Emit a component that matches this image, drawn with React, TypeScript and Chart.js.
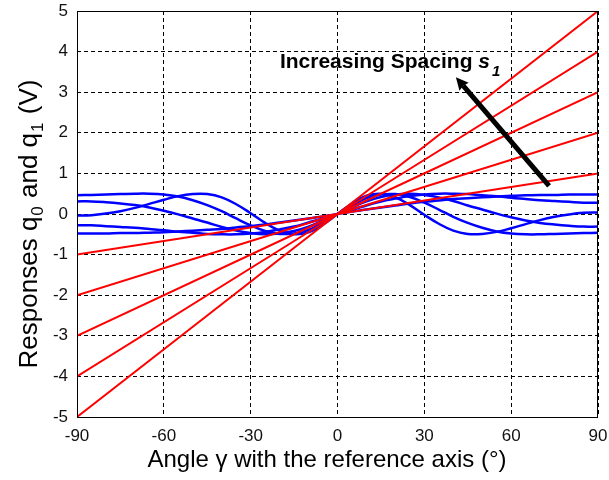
import React, { useEffect, useRef } from "react";
import { Chart, registerables } from "chart.js";

Chart.register(...registerables);

// ---- data ----
const angles = [
  -90, -85, -80, -75, -70, -65, -60, -55, -50, -45, -40, -35, -30, -25, -20, -15, -10, -5,
  0, 5, 10, 15, 20, 25, 30, 35, 40, 45, 50, 55, 60, 65, 70, 75, 80, 85, 90,
];

const blueQ0s1 = [
  -0.48, -0.48, -0.48, -0.47, -0.47, -0.46, -0.45, -0.43, -0.41, -0.39, -0.37, -0.33, -0.3, -0.26, -0.21, -0.16, -0.11, -0.06,
  0, 0.06, 0.11, 0.16, 0.21, 0.26, 0.3, 0.33, 0.37, 0.39, 0.41, 0.43, 0.45, 0.46, 0.47, 0.47, 0.48, 0.48, 0.48,
];
const blueQ0s2 = [
  -0.28, -0.28, -0.3, -0.32, -0.34, -0.37, -0.4, -0.44, -0.46, -0.49, -0.5, -0.5, -0.48, -0.44, -0.38, -0.31, -0.21, -0.11,
  0, 0.11, 0.21, 0.31, 0.38, 0.44, 0.48, 0.5, 0.5, 0.49, 0.46, 0.44, 0.4, 0.37, 0.34, 0.32, 0.3, 0.28, 0.28,
];
const blueQ0s3 = [
  0.31, 0.31, 0.29, 0.26, 0.22, 0.16, 0.08, -0.01, -0.11, -0.21, -0.32, -0.41, -0.47, -0.5, -0.48, -0.42, -0.31, -0.16,
  0, 0.16, 0.31, 0.42, 0.48, 0.5, 0.47, 0.41, 0.32, 0.21, 0.11, 0.01, -0.08, -0.16, -0.22, -0.26, -0.29, -0.31, -0.31,
];
const blueQ0s4 = [
  0.46, 0.47, 0.48, 0.49, 0.5, 0.5, 0.48, 0.43, 0.34, 0.22, 0.07, -0.11, -0.28, -0.42, -0.49, -0.48, -0.39, -0.21,
  0, 0.21, 0.39, 0.48, 0.49, 0.42, 0.28, 0.11, -0.07, -0.22, -0.34, -0.43, -0.48, -0.5, -0.5, -0.49, -0.48, -0.47, -0.46,
];
const blueQ0s5 = [
  -0.04, -0.03, 0.01, 0.07, 0.15, 0.25, 0.35, 0.44, 0.49, 0.49, 0.41, 0.24, 0.02, -0.22, -0.41, -0.5, -0.45, -0.26,
  0, 0.26, 0.45, 0.5, 0.41, 0.22, -0.02, -0.24, -0.41, -0.49, -0.49, -0.44, -0.35, -0.25, -0.15, -0.07, -0.01, 0.03, 0.04,
];

const redAngles = [-90, 0, 90];
const redQ1s1 = [-1, 0, 1];
const redQ1s2 = [-2, 0, 2];
const redQ1s3 = [-3, 0, 3];
const redQ1s4 = [-4, 0, 4];
const redQ1s5 = [-5, 0, 5];

const xTickValues = [-90, -60, -30, 0, 30, 60, 90];
const yTickValues = [-5, -4, -3, -2, -1, 0, 1, 2, 3, 4, 5];

const xTitle = "Angle \u03b3 with the reference axis (\u00b0)";
const yTitleParts = [
  { t: "Responses q", sub: false },
  { t: "0", sub: true },
  { t: " and q", sub: false },
  { t: "1", sub: true },
  { t: " (V)", sub: false },
];
const noteText = "Increasing Spacing ";
const noteSymbol = "s";
const noteSub = "1";
const noteAt = { x: -19.9, y: 3.6 };
const arrowTail = { x: 73.1, y: 0.69 };
const arrowHead = { x: 40.9, y: 3.37 };

const FONT = "'Liberation Sans', Arial, Helvetica, sans-serif";

const toPts = (xs: number[], ys: number[]) => xs.map((x, i) => ({ x, y: ys[i] }));

const decorPlugin = {
  id: "decor",
  afterDraw(chart: any) {
    const { ctx, chartArea: a, scales } = chart;
    const sx = scales.x;
    const sy = scales.y;
    ctx.save();
    // frame
    ctx.strokeStyle = "#000";
    ctx.lineWidth = 1;
    ctx.setLineDash([]);
    ctx.strokeRect(a.left + 0.5, a.top + 0.5, a.right - a.left - 1, a.bottom - a.top);

    // x title
    ctx.fillStyle = "#000";
    ctx.font = `24px ${FONT}`;
    ctx.textAlign = "center";
    ctx.textBaseline = "alphabetic";
    ctx.fillText(xTitle, 327, 467);

    // y title with subscripts
    const mainFont = `26px ${FONT}`;
    const subFont = `17px ${FONT}`;
    let total = 0;
    const widths = yTitleParts.map((p) => {
      ctx.font = p.sub ? subFont : mainFont;
      const w = ctx.measureText(p.t).width + (p.sub ? 2 : 0);
      total += w;
      return w;
    });
    ctx.translate(37, 224);
    ctx.rotate(-Math.PI / 2);
    ctx.textAlign = "left";
    let cx = -total / 2;
    yTitleParts.forEach((p, i) => {
      ctx.font = p.sub ? subFont : mainFont;
      ctx.fillText(p.t, cx + (p.sub ? 1 : 0), p.sub ? 6 : 0);
      cx += widths[i];
    });
    ctx.setTransform(1, 0, 0, 1, 0, 0);

    // annotation text
    const tx = sx.getPixelForValue(noteAt.x);
    const ty = sy.getPixelForValue(noteAt.y);
    ctx.textAlign = "left";
    ctx.font = `bold 21px ${FONT}`;
    ctx.fillText(noteText, tx, ty);
    let w = ctx.measureText(noteText).width;
    ctx.font = `italic bold 21px ${FONT}`;
    ctx.fillText(noteSymbol, tx + w, ty);
    w += ctx.measureText(noteSymbol).width;
    ctx.font = `italic bold 15px ${FONT}`;
    ctx.fillText(noteSub, tx + w + 2, ty + 8);

    // arrow
    const x1 = sx.getPixelForValue(arrowTail.x);
    const y1 = sy.getPixelForValue(arrowTail.y);
    const x2 = sx.getPixelForValue(arrowHead.x);
    const y2 = sy.getPixelForValue(arrowHead.y);
    const ang = Math.atan2(y2 - y1, x2 - x1);
    const headLen = 14;
    const bx = x2 - headLen * 0.8 * Math.cos(ang);
    const by = y2 - headLen * 0.8 * Math.sin(ang);
    ctx.strokeStyle = "#000";
    ctx.lineWidth = 5;
    ctx.lineCap = "butt";
    ctx.beginPath();
    ctx.moveTo(x1, y1);
    ctx.lineTo(bx, by);
    ctx.stroke();
    ctx.fillStyle = "#000";
    ctx.beginPath();
    ctx.moveTo(x2, y2);
    ctx.lineTo(x2 - headLen * Math.cos(ang - 0.45), y2 - headLen * Math.sin(ang - 0.45));
    ctx.lineTo(bx, by);
    ctx.lineTo(x2 - headLen * Math.cos(ang + 0.45), y2 - headLen * Math.sin(ang + 0.45));
    ctx.closePath();
    ctx.fill();
    ctx.restore();
  },
};

export default function App() {
  const ref = useRef<HTMLCanvasElement | null>(null);
  useEffect(() => {
    if (!ref.current) return;
    const red = (data: number[]) => ({
      data: toPts(redAngles, data),
      borderColor: "#ff0000",
      borderWidth: 2,
      pointRadius: 0,
      tension: 0,
      fill: false,
    });
    const blue = (data: number[]) => ({
      data: toPts(angles, data),
      borderColor: "#0000ff",
      borderWidth: 2.5,
      pointRadius: 0,
      tension: 0.4,
      fill: false,
    });
    const chart = new Chart(ref.current, {
      type: "line",
      data: {
        datasets: [
          red(redQ1s1),
          red(redQ1s2),
          red(redQ1s3),
          red(redQ1s4),
          red(redQ1s5),
          blue(blueQ0s1),
          blue(blueQ0s2),
          blue(blueQ0s3),
          blue(blueQ0s4),
          blue(blueQ0s5),
        ] as any,
      },
      options: {
        animation: false,
        responsive: false,
        devicePixelRatio: 1,
        layout: { padding: { top: 11, right: 11, left: 0, bottom: 0 } },
        plugins: { legend: { display: false }, tooltip: { enabled: false } },
        scales: {
          x: {
            type: "linear",
            min: -90,
            max: 90,
            afterBuildTicks: (s: any) => {
              s.ticks = xTickValues.map((v) => ({ value: v }));
            },
            afterFit: (s: any) => {
              s.height = 63;
              s.paddingLeft = 0;
              s.paddingRight = 0;
            },
            ticks: {
              color: "#111",
              font: { family: FONT, size: 17 },
              padding: 9,
              maxRotation: 0,
              autoSkip: false,
            },
            grid: { color: "#000", lineWidth: 1, drawTicks: false },
            border: { display: false, dash: [4, 3] },
          },
          y: {
            type: "linear",
            min: -5,
            max: 5,
            afterBuildTicks: (s: any) => {
              s.ticks = yTickValues.map((v) => ({ value: v }));
            },
            afterFit: (s: any) => {
              s.width = 77;
              s.paddingTop = 0;
              s.paddingBottom = 0;
            },
            ticks: {
              color: "#111",
              font: { family: FONT, size: 17 },
              padding: 9,
              autoSkip: false,
            },
            grid: { color: "#000", lineWidth: 1, drawTicks: false },
            border: { display: false, dash: [4, 3] },
          },
        },
      },
      plugins: [decorPlugin],
    } as any);
    return () => chart.destroy();
  }, []);
  return (
    <div style={{ position: "absolute", left: 0, top: 0, width: 609, height: 480 }}>
      <canvas ref={ref} width={609} height={480} style={{ display: "block", width: 609, height: 480 }} />
    </div>
  );
}
